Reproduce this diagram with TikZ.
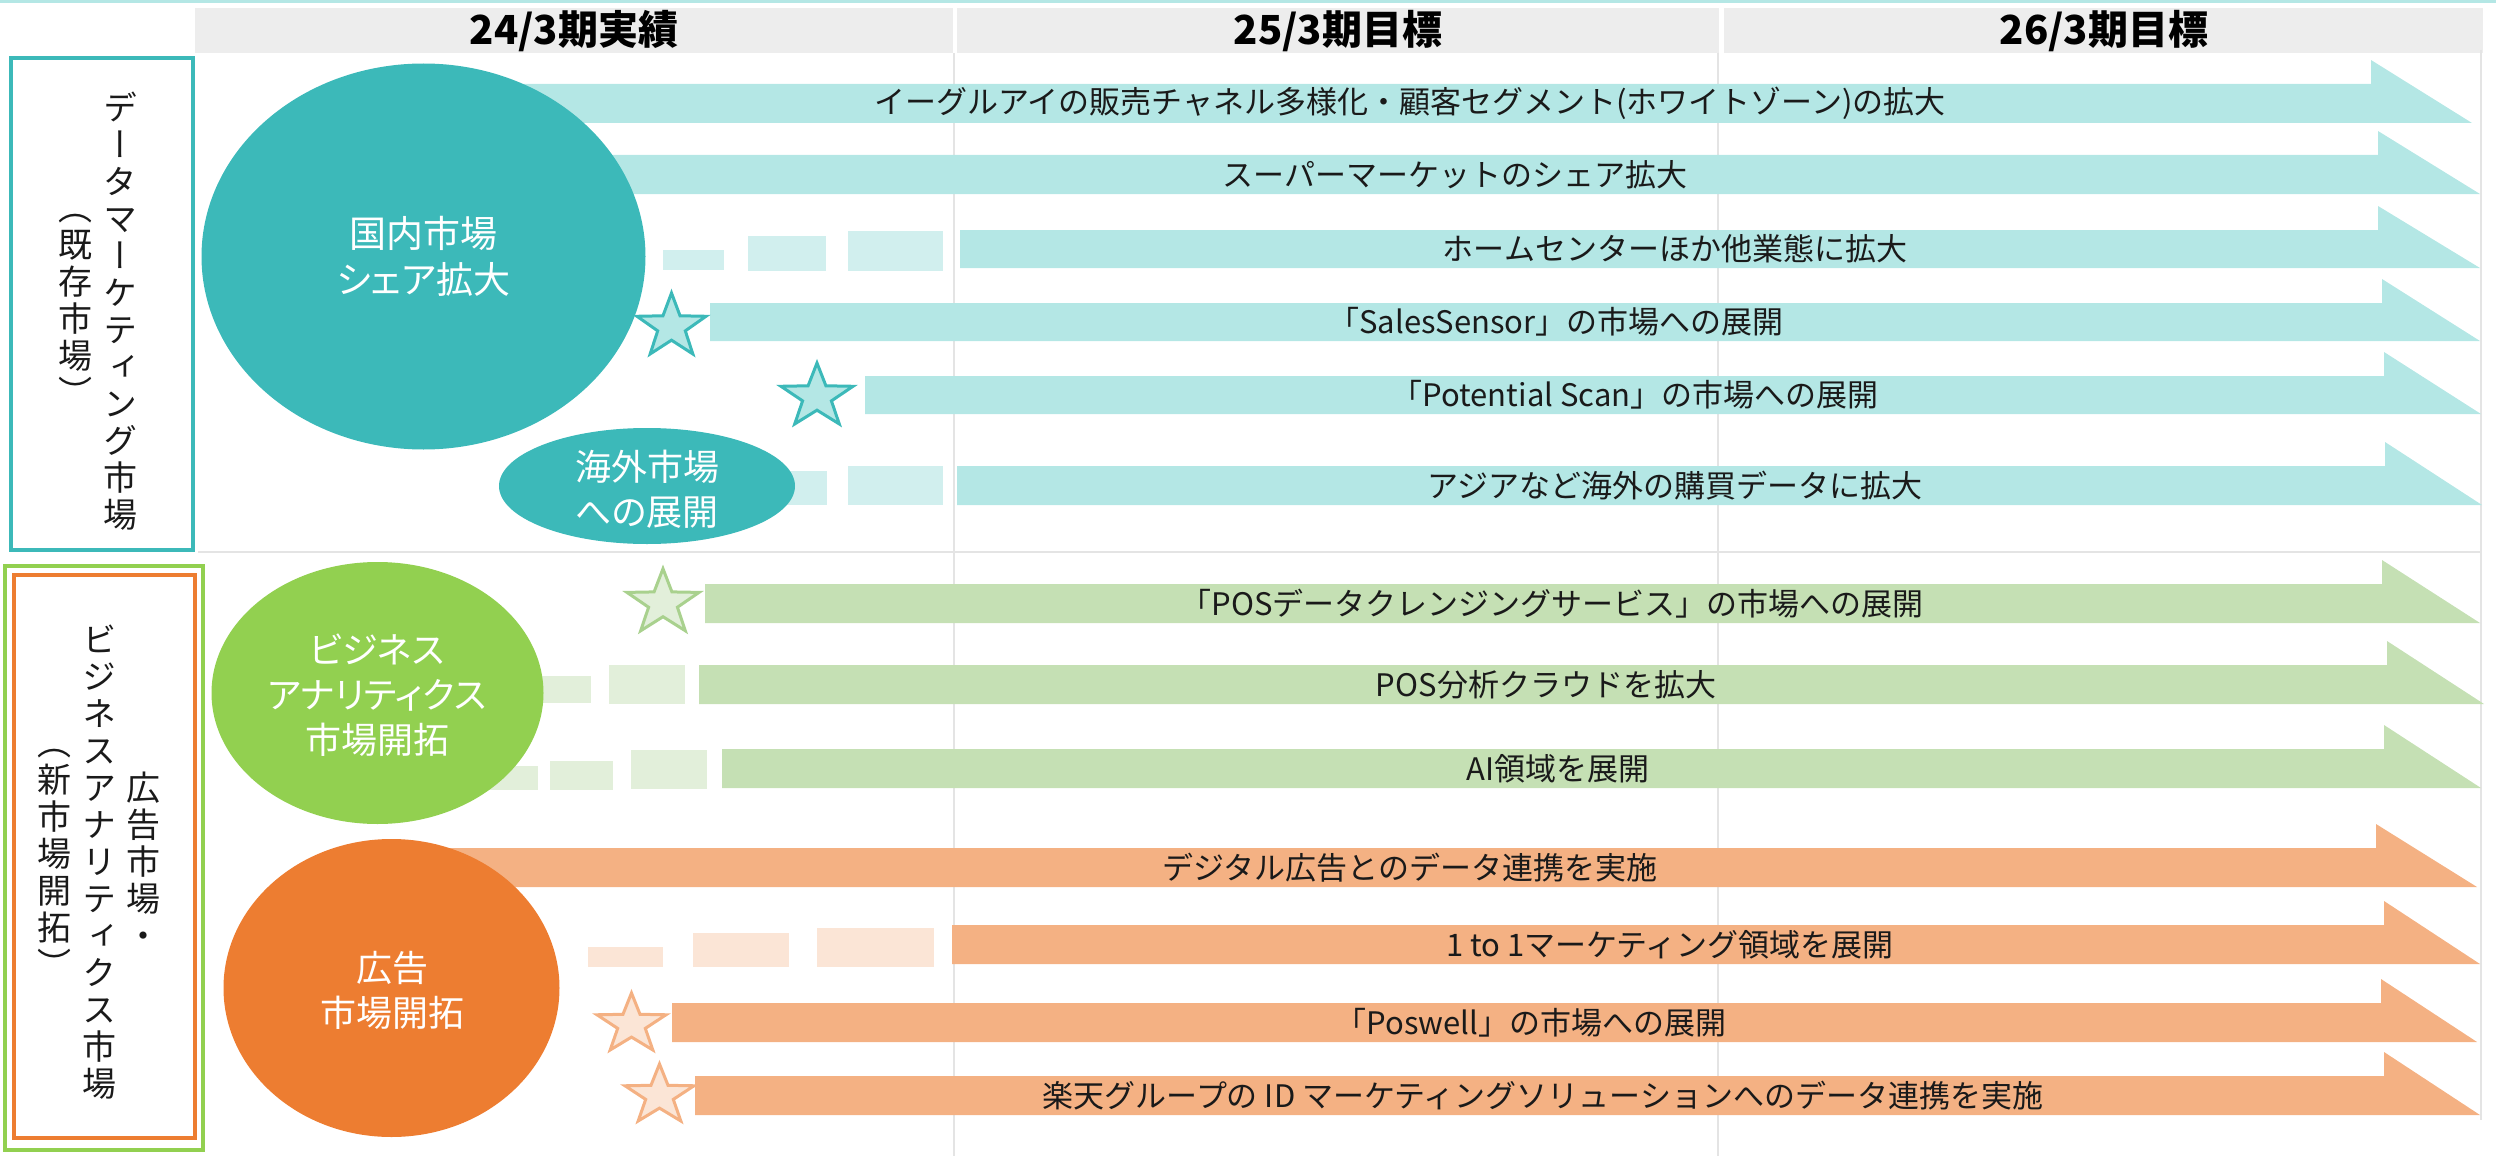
\documentclass[tikz,border=0pt]{standalone}
\usepackage{fontspec}
\usepackage{graphicx}
\setmainfont{Noto Sans CJK JP}
\newfontfamily\jp{Noto Sans CJK JP}
\newfontfamily\jpp[RawFeature=+palt]{Noto Sans CJK JP}
\newfontfamily\jpv[RawFeature=+vert]{Noto Sans CJK JP}
\usetikzlibrary{shapes.geometric}
\definecolor{tealD}{HTML}{3CB9B9}
\definecolor{tealL}{HTML}{B4E7E5}
\definecolor{tealX}{HTML}{D1EFEE}
\definecolor{greenD}{HTML}{92D050}
\definecolor{greenL}{HTML}{C5E0B4}
\definecolor{greenX}{HTML}{E2EFDA}
\definecolor{greenS}{HTML}{A9D18E}
\definecolor{orangeD}{HTML}{ED7D31}
\definecolor{orangeL}{HTML}{F4B183}
\definecolor{orangeX}{HTML}{FBE5D6}
\definecolor{hdrgray}{HTML}{EDEDED}
\definecolor{gridgray}{HTML}{E4E4E4}
\definecolor{txt}{HTML}{1A1A1A}
\newcommand\flagarrow[6]{\fill[#1] (#2,#3) -- (#5,#3) -- (#5,#3-24) -- (#6,#4) -- (#2,#4) -- cycle;}
\newcommand\jstar[6]{%
  \begin{scope}[shift={(#3,#4)},xscale=#5,yscale=#6]
    \path[fill=#1,draw=#2,line width=1.5pt,line join=miter]
      (-90:1) -- (-54:0.4) -- (-18:1) -- (18:0.4) -- (54:1) -- (90:0.4)
      -- (126:1) -- (162:0.4) -- (198:1) -- (234:0.4) -- cycle;
  \end{scope}}
\begin{document}
\begin{tikzpicture}[x=0.5pt,y=-0.5pt,
  arrowtext/.style={font=\jp\fontsize{15.5}{18}\selectfont,text=txt,inner sep=0pt},
  etext/.style={font=\jpp\fontsize{18.5}{23}\selectfont,text=white,align=center,inner sep=0pt},
  vtext/.style={font=\jpv\fontsize{17}{18.5}\selectfont,align=center,inner sep=0pt,text=txt},
  hdr/.style={font=\jp\bfseries\fontsize{20}{24}\selectfont,inner sep=0pt,text=black},
  blob/.style={ellipse,inner sep=0pt,draw=none}]
\useasboundingbox (0,0) rectangle (2496,1156);
% top line
\fill[tealL] (0,0) rectangle (2496,3);
% header
\fill[hdrgray] (195,8) rectangle (953,53);
\fill[hdrgray] (957,8) rectangle (1719,53);
\fill[hdrgray] (1724,8) rectangle (2483,53);
\node[hdr] (h1) at (574,31) {24/3期実績};
\node[hdr] (h2) at (1338,31) {25/3期目標};
\node[hdr] (h3) at (2104,31) {26/3期目標};
% grid
\draw[gridgray,line width=1pt] (954,53) -- (954,1156);
\draw[gridgray,line width=1pt] (1718,53) -- (1718,1156);
\draw[gridgray,line width=1pt] (2481,50) -- (2481,1120);
\draw[gridgray,line width=1.2pt] (198,552) -- (2481,552);
% left boxes
\draw[tealD,line width=1.6pt] (11,58) rectangle (193,550);
\draw[greenD,line width=1.6pt] (5,566) rectangle (203,1150);
\draw[orangeD,line width=1.6pt] (14,575) rectangle (195,1138);
\node[vtext] (v1a) at (120,311) {デ\\ー\\タ\\マ\\ー\\ケ\\テ\\ィ\\ン\\グ\\市\\場};
\node[vtext] (v1b) at (75,310) {（\\既\\存\\市\\場\\）};
\node[vtext] (v2a) at (143,860) {広\\告\\市\\場\\・};
\node[vtext] (v2b) at (99,862) {ビ\\ジ\\ネ\\ス\\ア\\ナ\\リ\\テ\\ィ\\ク\\ス\\市\\場};
\node[vtext] (v2c) at (54,863) {（\\新\\市\\場\\開\\拓\\）};
% teal arrows
\flagarrow{tealL}{430}{84}{123}{2371}{2472}
\flagarrow{tealL}{430}{155}{194}{2378}{2480}
\flagarrow{tealL}{960}{230}{268}{2378}{2480}
\flagarrow{tealL}{710}{303}{341}{2382}{2480}
\flagarrow{tealL}{865}{376}{414}{2384}{2481}
\flagarrow{tealL}{957}{466}{505}{2385}{2482}
\fill[tealX] (663,250) rectangle (724,270);
\fill[tealX] (748,236) rectangle (826,271);
\fill[tealX] (848,231) rectangle (943,271);
\fill[tealX] (748,471) rectangle (827,505);
\fill[tealX] (848,466) rectangle (943,505);
% green arrows
\flagarrow{greenL}{705}{584}{623}{2382}{2480}
\flagarrow{greenL}{699}{665}{704}{2387}{2484}
\flagarrow{greenL}{722}{749}{788}{2384}{2481}
\fill[greenX] (500,676) rectangle (591,703);
\fill[greenX] (609,665) rectangle (685,704);
\fill[greenX] (470,766) rectangle (538,790);
\fill[greenX] (550,761) rectangle (613,790);
\fill[greenX] (631,750) rectangle (707,789);
% orange arrows
\flagarrow{orangeL}{400}{848}{887}{2376}{2477}
\flagarrow{orangeL}{952}{925}{964}{2384}{2480}
\flagarrow{orangeL}{672}{1003}{1042}{2381}{2477}
\flagarrow{orangeL}{695}{1076}{1115}{2384}{2480}
\fill[orangeX] (588,947) rectangle (663,967);
\fill[orangeX] (693,933) rectangle (789,967);
\fill[orangeX] (817,928) rectangle (934,967);
% ellipses
\node[blob,fill=tealD,minimum width=222pt,minimum height=193pt] (e1) at (423.5,256.5) {};
\node[blob,fill=tealD,minimum width=148pt,minimum height=58pt] (e2) at (647,486) {};
\node[blob,fill=greenD,minimum width=166pt,minimum height=131pt] (e3) at (377.5,693) {};
\node[blob,fill=orangeD,minimum width=168pt,minimum height=149pt] (e4) at (391.5,988) {};
\node[etext] (et1) at (e1.center) {国内市場\\シェア拡大};
\node[etext,font=\jpp\fontsize{18}{22.5}\selectfont] (et2) at (647,489) {海外市場\\への展開};
\node[etext,font=\jpp\fontsize{18}{22.5}\selectfont] (et3) at (377,695) {ビジネス\\アナリティクス\\市場開拓};
\node[etext,font=\jpp\fontsize{18}{22.5}\selectfont] (et4) at (392,990) {広告\\市場開拓};
% stars
\jstar{tealL}{tealD}{671.5}{326.7}{36.3}{33.7}
\jstar{tealL}{tealD}{817}{396.7}{37.9}{33.7}
\jstar{greenX}{greenS}{663}{603}{37.9}{34.3}
\jstar{orangeX}{orangeL}{631.5}{1024.5}{36.3}{31.5}
\jstar{orangeX}{orangeL}{659.5}{1095.5}{36.3}{31.5}
% arrow texts
\node[arrowtext] (t1) at (1410,103.5) {イーグルアイの販売チャネル多様化・顧客セグメント(ホワイトゾーン)の拡大};
\node[arrowtext] (t2) at (1455,174.5) {スーパーマーケットのシェア拡大};
\node[arrowtext] (t3) at (1675,249) {ホームセンターほか他業態に拡大};
\node[arrowtext] (t4) at (1556,322) {「SalesSensor」の市場への展開};
\node[arrowtext] (t5) at (1635,395) {「Potential Scan」の市場への展開};
\node[arrowtext] (t6) at (1675,485.5) {アジアなど海外の購買データに拡大};
\node[arrowtext] (g1) at (1552,603.5) {「POSデータクレンジングサービス」の市場への展開};
\node[arrowtext] (g2) at (1546,684.5) {POS分析クラウドを拡大};
\node[arrowtext] (g3) at (1558,768.5) {AI領域を展開};
\node[arrowtext] (o1) at (1410,867.5) {デジタル広告とのデータ連携を実施};
\node[arrowtext] (o2) at (1670,944.5) {1 to 1マーケティング領域を展開};
\node[arrowtext] (o3) at (1531,1022.5) {「Poswell」の市場への展開};
\node[arrowtext] (o4) at (1543,1095.5) {楽天グループの ID マーケティングソリューションへのデータ連携を実施};
\end{tikzpicture}
\end{document}
